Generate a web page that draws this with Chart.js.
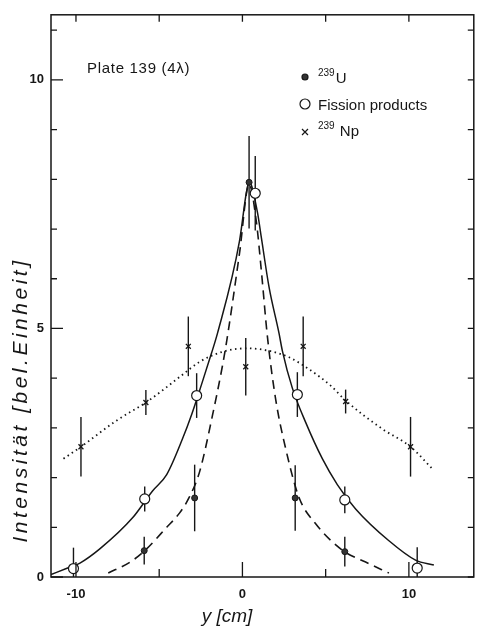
<!DOCTYPE html>
<html>
<head>
<meta charset="utf-8">
<script src="https://cdn.jsdelivr.net/npm/chart.js@4.4.1/dist/chart.umd.min.js"></script>
<style>
  html, body { margin: 0; padding: 0; background: #fff; }
  canvas { display: block; }
</style>
</head>
<body>
<canvas id="chart" width="480" height="630"></canvas>
<script>
// measured points (y in cm, intensity in arbitrary units)
const u239X = [-5.9, -2.87, 0.4, 3.17, 6.15];
const u239Y = [0.53, 1.59, 7.94, 1.59, 0.51];
const u239Err = [0.28, 0.67, 0.93, 0.66, 0.3];

const fissionX = [-10.15, -5.87, -2.75, 0.77, 3.3, 6.15, 10.5];
const fissionY = [0.17, 1.57, 3.65, 7.72, 3.67, 1.55, 0.18];
const fissionErr = [0.42, 0.25, 0.45, 0.75, 0.45, 0.27, 0.42];

const np239X = [-9.7, -5.8, -3.25, 0.2, 3.65, 6.2, 10.1];
const np239Y = [2.62, 3.51, 4.64, 4.23, 4.64, 3.53, 2.62];
const np239Err = [0.6, 0.25, 0.6, 0.58, 0.6, 0.24, 0.6];

// fitted curves
const fissionFitX = [-11.5, -10.5, -9.76, -8.55, -6.6, -5.4, -4.55, -3.6, -3.05, -2.46, -1.86, -1.5, -0.18, 0.24, 0.4, 0.9, 1.14, 1.6, 2.2, 2.4, 3.0, 3.8, 4.8, 5.7, 6.8, 8.8, 10.4, 11.5];
const fissionFitY = [0.05, 0.18, 0.28, 0.57, 1.19, 1.73, 2.06, 2.78, 3.27, 3.87, 4.5, 4.9, 6.75, 7.74, 7.95, 7.34, 6.82, 5.83, 4.9, 4.55, 3.8, 3.11, 2.38, 1.86, 1.37, 0.73, 0.34, 0.24];

const uFitX = [-8.06, -6.75, -5.9, -4.55, -3.77, -3.2, -2.57, -1.8, -1.2, -0.9, -0.18, 0.4, 0.84, 1.14, 1.5, 2.0, 2.6, 3.4, 4.4, 6.0, 7.4, 8.8];
const uFitY = [0.08, 0.3, 0.52, 1.0, 1.29, 1.6, 2.12, 3.25, 4.25, 4.84, 6.5, 7.9, 7.14, 6.15, 4.84, 3.57, 2.58, 1.6, 1.07, 0.54, 0.3, 0.08];

const npFitX = [-10.75, -9.7, -7.55, -5.8, -4.55, -3.6, -2.57, -1.2, 0.24, 1.6, 2.8, 4.0, 5.3, 6.2, 8.4, 10.1, 11.4];
const npFitY = [2.38, 2.62, 3.15, 3.51, 3.82, 4.07, 4.33, 4.53, 4.6, 4.55, 4.42, 4.18, 3.85, 3.55, 2.98, 2.62, 2.18];

// axes
const xTickLabels = [-10, 0, 10];
const xMinorTicks = [-10, -5, 0, 5, 10];
const yTickLabels = [0, 5, 10];
const yMinorTicks = [0, 1, 2, 3, 4, 5, 6, 7, 8, 9, 10, 11];

const ink = '#161616';
const textFont = '15px "Liberation Sans", sans-serif';
const zip = (xs, ys) => xs.map((v, i) => ({ x: v, y: ys[i] }));

const errorSets = [
    { xs: u239X, ys: u239Y, err: u239Err },
    { xs: fissionX, ys: fissionY, err: fissionErr },
    { xs: np239X, ys: np239Y, err: np239Err }
];

function drawMarker(ctx, kind, cx, cy) {
    ctx.save();
    ctx.strokeStyle = ink;
    ctx.fillStyle = kind === 'dot' ? '#333' : '#fff';
    ctx.lineWidth = 1.2;
    if (kind === 'cross') {
        ctx.beginPath();
        ctx.moveTo(cx - 3, cy - 3); ctx.lineTo(cx + 3, cy + 3);
        ctx.moveTo(cx + 3, cy - 3); ctx.lineTo(cx - 3, cy + 3);
        ctx.stroke();
    } else {
        ctx.beginPath();
        ctx.arc(cx, cy, kind === 'dot' ? 3 : 5, 0, Math.PI * 2);
        ctx.fill();
        ctx.stroke();
    }
    ctx.restore();
}

function drawIsotope(ctx, x, baseline, mass, symbol) {
    ctx.font = '10px "Liberation Sans", sans-serif';
    ctx.fillText(mass, x, baseline - 7);
    const w = ctx.measureText(mass).width;
    ctx.font = textFont;
    ctx.fillText(symbol, x + w + 1, baseline);
}

const decor = {
    id: 'decor',
    beforeDatasetsDraw(chart) {
        const { ctx, scales: { x, y }, chartArea: a } = chart;
        ctx.save();
        ctx.strokeStyle = ink;
        ctx.lineWidth = 1.4;
        errorSets.forEach(s => s.xs.forEach((v, i) => {
            const px = x.getPixelForValue(v);
            ctx.beginPath();
            ctx.moveTo(px, Math.min(y.getPixelForValue(s.ys[i] - s.err[i]), a.bottom));
            ctx.lineTo(px, y.getPixelForValue(s.ys[i] + s.err[i]));
            ctx.stroke();
        }));
        ctx.restore();
    },
    afterDraw(chart) {
        const { ctx, scales: { x, y }, chartArea: a } = chart;
        ctx.save();
        ctx.strokeStyle = ink;
        ctx.fillStyle = ink;

        // frame and inward ticks
        ctx.lineWidth = 1.5;
        ctx.strokeRect(a.left, a.top, a.right - a.left, a.bottom - a.top);
        ctx.lineWidth = 1.3;
        ctx.beginPath();
        yMinorTicks.forEach(v => {
            const py = y.getPixelForValue(v);
            const len = yTickLabels.includes(v) ? 12 : 6;
            ctx.moveTo(a.left, py); ctx.lineTo(a.left + len, py);
            ctx.moveTo(a.right, py); ctx.lineTo(a.right - 6, py);
        });
        xMinorTicks.forEach(v => {
            const px = x.getPixelForValue(v);
            const len = xTickLabels.includes(v) ? 15 : 8;
            ctx.moveTo(px, a.bottom); ctx.lineTo(px, a.bottom - len);
            ctx.moveTo(px, a.top); ctx.lineTo(px, a.top + 7);
        });
        ctx.stroke();

        // annotation and legend
        ctx.textAlign = 'left';
        ctx.textBaseline = 'alphabetic';
        ctx.font = textFont;
        if ('letterSpacing' in ctx) ctx.letterSpacing = '0.7px';
        ctx.fillText('Plate 139 (4λ)', 87, 73);
        if ('letterSpacing' in ctx) ctx.letterSpacing = '0px';

        drawMarker(ctx, 'dot', 305, 77);
        drawIsotope(ctx, 318, 83, '239', 'U');
        drawMarker(ctx, 'open', 305, 104);
        ctx.font = textFont;
        ctx.fillText('Fission products', 318, 110);
        drawMarker(ctx, 'cross', 305, 132);
        drawIsotope(ctx, 318, 136, '239', ' Np');

        // axis titles
        ctx.textAlign = 'center';
        ctx.textBaseline = 'middle';
        ctx.font = 'italic 19px "Liberation Sans", sans-serif';
        ctx.fillText('y [cm]', 227, 617);

        ctx.translate(21, 400);
        ctx.rotate(-Math.PI / 2);
        ctx.font = 'italic 21px "Liberation Sans", sans-serif';
        const label = 'Intensität [bel.Einheit]';
        const w = ctx.measureText(label).width;
        if ('letterSpacing' in ctx) ctx.letterSpacing = Math.max(0, (285 - w) / label.length).toFixed(2) + 'px';
        ctx.fillText(label, 0, 0);
        ctx.restore();
    }
};

const tickFont = { family: '"Liberation Sans Narrow", "Liberation Sans", sans-serif', size: 13, weight: 'bold' };

new Chart(document.getElementById('chart'), {
    type: 'scatter',
    data: {
        datasets: [
            { data: zip(uFitX, uFitY), showLine: true, pointRadius: 0, borderColor: ink, borderWidth: 1.6, borderDash: [9, 6], cubicInterpolationMode: 'monotone', order: 3 },
            { data: zip(fissionFitX, fissionFitY), showLine: true, pointRadius: 0, borderColor: ink, borderWidth: 1.5, cubicInterpolationMode: 'monotone', order: 3 },
            { data: zip(npFitX, npFitY), showLine: true, pointRadius: 0, borderColor: ink, borderWidth: 1.8, borderDash: [1.5, 3.5], cubicInterpolationMode: 'monotone', order: 3 },
            { data: zip(u239X, u239Y), pointStyle: 'circle', pointRadius: 3, backgroundColor: '#333', borderColor: ink, borderWidth: 1, clip: false, order: 1 },
            { data: zip(fissionX, fissionY), pointStyle: 'circle', pointRadius: 5, backgroundColor: '#fff', borderColor: ink, borderWidth: 1.2, clip: false, order: 1 },
            { data: zip(np239X, np239Y), pointStyle: 'crossRot', pointRadius: 3.5, borderColor: ink, borderWidth: 1.3, clip: false, order: 1 }
        ]
    },
    options: {
        responsive: false,
        animation: false,
        layout: { padding: { top: 7, right: 5 } },
        plugins: { legend: { display: false }, tooltip: { enabled: false } },
        scales: {
            x: {
                type: 'linear',
                min: -11.5,
                max: 13.9,
                afterFit: s => { s.height = 53; },
                afterBuildTicks: s => { s.ticks = xTickLabels.map(v => ({ value: v })); },
                grid: { display: false, drawTicks: false },
                border: { display: false },
                ticks: { padding: 10, color: ink, font: tickFont }
            },
            y: {
                type: 'linear',
                min: 0,
                max: 11.31,
                afterFit: s => { s.width = 51; },
                afterBuildTicks: s => { s.ticks = yTickLabels.map(v => ({ value: v })); },
                grid: { display: false, drawTicks: false },
                border: { display: false },
                ticks: { padding: 7, color: ink, font: tickFont }
            }
        }
    },
    plugins: [decor]
});
</script>
</body>
</html>
